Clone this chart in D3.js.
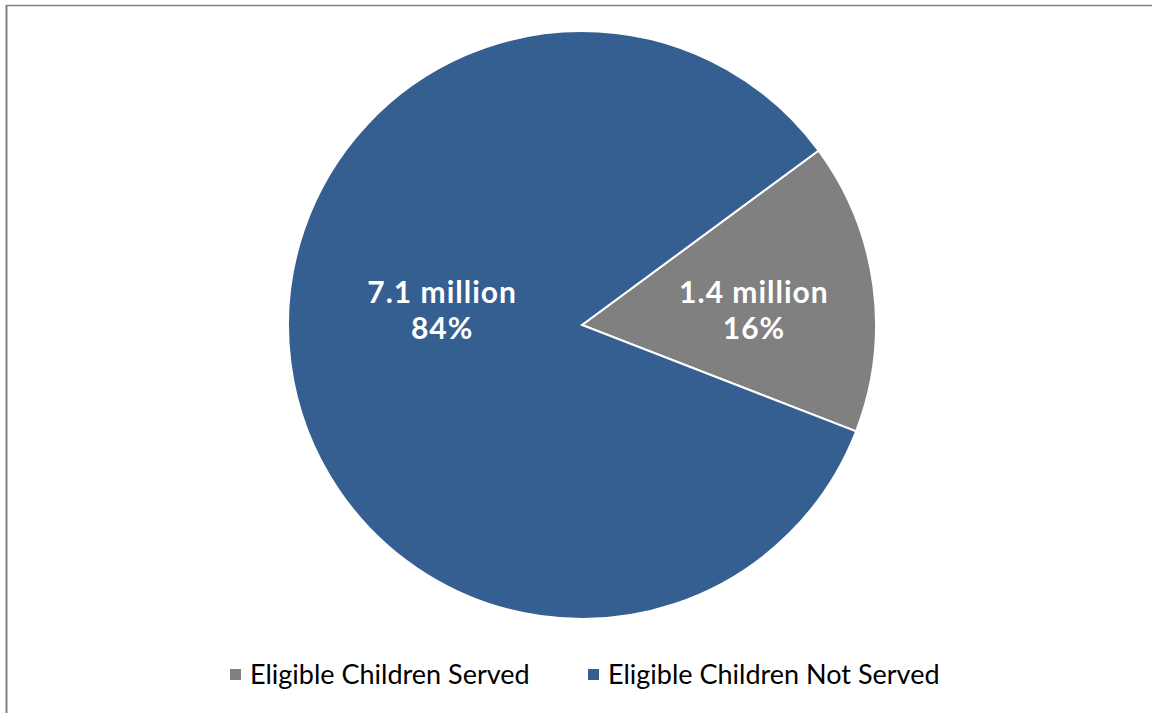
<!DOCTYPE html>
<html>
<head>
<meta charset="utf-8">
<script src="https://cdn.jsdelivr.net/npm/d3@7"></script>
<style>
  body { margin: 0; background: #fff; }
  svg { display: block; font-family: Lato, "Open Sans", sans-serif; }
</style>
</head>
<body>
<svg id="chart" width="1153" height="713"></svg>
<script>
const categories = ["Eligible Children Served", "Eligible Children Not Served"];
const shares = [16, 84];
const amounts = ["1.4 million", "7.1 million"];
const colors = ["#808080", "#355f91"];

const svg = d3.select("#chart");
const width = 1153;
const height = 713;

// frame (left + top edges only visible)
svg.append("line").attr("x1", 6.5).attr("x2", 6.5).attr("y1", 5).attr("y2", height)
  .attr("stroke", "#808080").attr("stroke-width", 2);
svg.append("line").attr("x1", 6).attr("x2", 1152).attr("y1", 5.5).attr("y2", 5.5)
  .attr("stroke", "#808080").attr("stroke-width", 1.5);

const cx = 582, cy = 325, radius = 294;
const startAngle = 53.6 * Math.PI / 180;

const data = categories.map((c, i) => ({ name: c, share: shares[i], amount: amounts[i], color: colors[i] }));

const pie = d3.pie()
  .value(d => d.share)
  .sort(null)
  .startAngle(startAngle)
  .endAngle(startAngle + 2 * Math.PI);

const arc = d3.arc().innerRadius(0).outerRadius(radius);
const labelRatio = [0.59, 0.48];

const g = svg.append("g").attr("transform", `translate(${cx},${cy})`);

const arcs = pie(data);

g.selectAll("path.slice")
  .data(arcs)
  .join("path")
  .attr("class", "slice")
  .attr("d", arc)
  .attr("fill", d => d.data.color)
  .attr("stroke", "#fff")
  .attr("stroke-width", 2);

const labels = g.selectAll("text.label")
  .data(arcs)
  .join("text")
  .attr("class", "label")
  .attr("text-anchor", "middle")
  .attr("fill", "#fff")
  .attr("font-weight", "bold")
  .attr("font-size", 30)
  .attr("letter-spacing", 1)
  .attr("transform", (d, i) => {
    const r = radius * labelRatio[i];
    const c = d3.arc().innerRadius(r).outerRadius(r).centroid(d);
    return `translate(${c[0]},-7)`;
  });

labels.append("tspan").attr("x", 0).attr("y", -15).text(d => d.data.amount);
labels.append("tspan").attr("x", 0).attr("y", 21).text(d => d.data.share + "%");

// legend
const legendX = [230, 588];
const legend = svg.append("g").selectAll("g")
  .data(data)
  .join("g")
  .attr("transform", (d, i) => `translate(${legendX[i]},669)`);

legend.append("rect").attr("width", 11).attr("height", 11).attr("fill", d => d.color);
legend.append("text")
  .attr("x", 20)
  .attr("y", 15)
  .attr("font-size", 27)
  .attr("fill", "#000")
  .text(d => d.name);
</script>
</body>
</html>
